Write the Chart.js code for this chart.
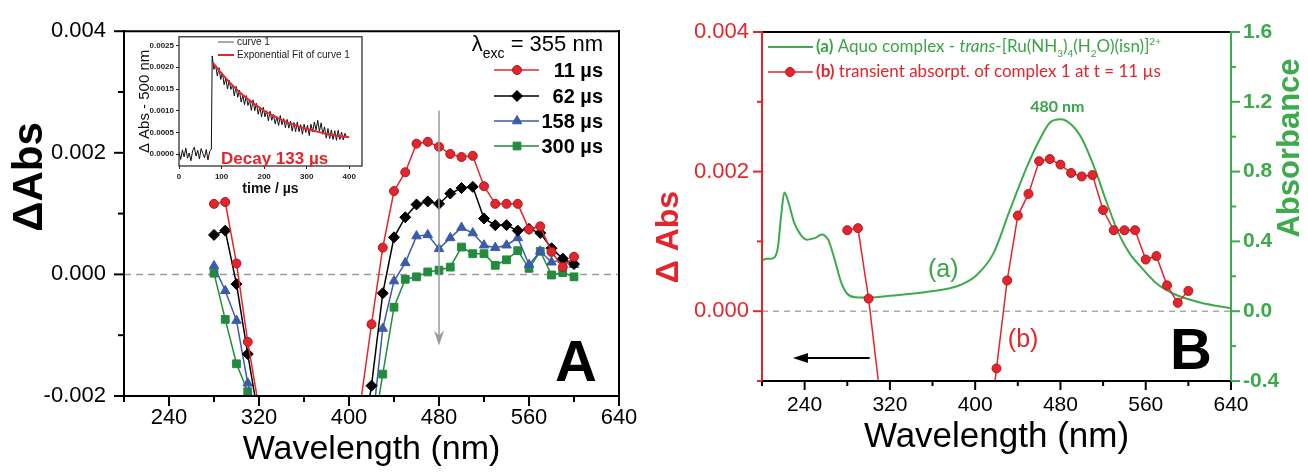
<!DOCTYPE html>
<html>
<head>
<meta charset="utf-8">
<script src="https://cdn.jsdelivr.net/npm/chart.js"></script>
<style>
html,body{margin:0;padding:0;background:#fff;}
#wrap{position:relative;width:1308px;height:472px;overflow:hidden;background:#fff;}
canvas{position:absolute;}
#cA{left:0;top:0;}
#cB{left:650px;top:0;}
#cIn{left:120px;top:30px;}
</style>
</head>
<body>
<div id="wrap">
<canvas id="cA" width="650" height="472"></canvas>
<canvas id="cB" width="658" height="472"></canvas>
<canvas id="cIn" width="250" height="180"></canvas>
</div>
<script>
// wavelengths (nm) of the transient spectra, UV side and visible side
const wlUV = [280, 290, 300, 310, 320];
const wlVis = [410, 420, 430, 440, 450, 460, 470, 480, 490, 500, 510, 520, 530, 540, 550, 560, 570, 580, 590, 600];
// ΔAbs in units of 1e-3
const t11UV = [1.16, 1.19, 0.18, -1.11, -2.2];
const t11Vis = [-2.15, -0.82, 0.44, 1.37, 1.68, 2.15, 2.18, 2.10, 1.98, 1.93, 1.95, 1.45, 1.16, 1.16, 1.16, 0.74, 0.79, 0.37, 0.12, 0.29];
const t62UV = [0.65, 0.72, -0.16, -1.31, -2.4];
const t62Vis = [-3.0, -1.83, -0.31, 0.61, 0.94, 1.15, 1.20, 1.16, 1.33, 1.42, 1.44, 0.92, 0.81, 0.81, 0.72, 0.75, 0.68, 0.43, 0.26, 0.17];
const t158UV = [0.14, -0.27, -0.76, -1.79, -2.4];
const t158Vis = [-3.5, -2.6, -0.89, -0.11, 0.19, 0.63, 0.65, 0.42, 0.60, 0.77, 0.68, 0.48, 0.44, 0.48, 0.60, 0.16, 0.38, 0.20, 0.24, 0.16];
const t300UV = [0.02, -0.74, -1.47, -1.93, -2.5];
const t300Vis = [-4.0, -2.8, -1.64, -0.54, -0.08, -0.04, 0.04, 0.07, 0.12, 0.45, 0.34, 0.34, 0.15, 0.24, 0.39, 0.10, 0.38, -0.01, 0.03, -0.04];
const delayLabels = ['11 µs', '62 µs', '158 µs', '300 µs'];

// aquo complex absorbance spectrum (panel B, right axis)
const absWl = [200, 204, 208, 212, 215, 218, 221, 225, 230, 236, 242, 250, 256, 262, 268, 274, 280, 288, 300, 323, 354, 375, 386, 401, 417, 432, 448, 461, 470, 480, 490, 500, 512, 523, 535, 545, 556, 570, 586, 611, 640];
const absVal = [0.29, 0.30, 0.30, 0.31, 0.37, 0.55, 0.68, 0.62, 0.51, 0.44, 0.41, 0.42, 0.44, 0.41, 0.30, 0.17, 0.10, 0.08, 0.078, 0.09, 0.11, 0.13, 0.15, 0.205, 0.33, 0.57, 0.82, 0.99, 1.08, 1.10, 1.07, 0.99, 0.82, 0.63, 0.44, 0.33, 0.25, 0.16, 0.10, 0.05, 0.017];

// inset: kinetic trace at 500 nm, units of 1e-4, 4 µs sampling
const insetStep = 4;
const insetBase = [0.5, -1.2, 1.0, -0.6, 1.4, -0.9, 0.3, -1.5, 0.8, 1.6, -0.4, 0.9, -1.1, 1.3, 0.2, -0.8, 1.1, -1.3, 0.6, 1.2];
const insetDecayStart = 78;
const insetDecay = [22.6, 19.5, 20.5, 18.0, 19.9, 17.2, 18.7, 16.0, 17.4, 15.0,
  17.0, 14.9, 15.9, 13.4, 15.6, 13.1, 14.7, 12.0, 13.5, 11.4,
  13.5, 11.2, 12.4, 10.1, 12.5, 10.0, 11.7, 9.2, 10.8, 8.6,
  10.8, 8.6, 10.0, 7.7, 9.9, 7.8, 9.1, 7.0, 8.6, 6.6,
  8.9, 6.8, 8.2, 6.1, 8.0, 6.0, 7.6, 5.3, 7.3, 5.2,
  7.4, 5.2, 6.8, 4.6, 6.9, 5.0, 6.7, 4.3, 6.9, 5.2,
  7.4, 5.6, 7.8, 5.3, 7.2, 4.6, 6.3, 3.7, 5.9, 3.6,
  5.6, 3.4, 5.4, 3.2, 5.5, 3.4, 5.1, 3.3, 4.8, 3.9];
const fitT = [80, 100, 125, 150, 175, 200, 225, 250, 275, 300, 325, 350, 375, 400];
const fitV = [21.0, 18.6, 15.9, 13.6, 11.7, 10.0, 8.7, 7.5, 6.6, 5.8, 5.2, 4.6, 4.2, 3.9];

const FONT = '"Liberation Sans", Arial, sans-serif';
const LEG = 'Lato, "Open Sans", sans-serif';
const RED = '#e3262d', BLUE = '#3b5ba9', GREEN = '#228b3c', GREENB = '#3daa4b', GRAY = '#9a9a9a';

function pts(wl, v, k){ return wl.map((w,i)=>({x:w, y:v[i]*k})); }
function twoSeg(a, b){ return pts(wlUV, a, 1e-3).concat([{x:365, y:null}], pts(wlVis, b, 1e-3)); }

function tickMarks(ctx, scale, area, side, from, to, minor, major, color, lenMaj, lenMin){
  ctx.strokeStyle = color; ctx.lineWidth = 2;
  const n = Math.round((to-from)/minor);
  for(let i=0;i<=n;i++){
    const v = from + i*minor;
    const isMaj = Math.abs(v/major - Math.round(v/major)) < 1e-6;
    const len = isMaj ? lenMaj : lenMin;
    const p = scale.getPixelForValue(v);
    ctx.beginPath();
    if(side==='bottom'){ ctx.moveTo(p, area.bottom); ctx.lineTo(p, area.bottom+len); }
    else if(side==='left'){ ctx.moveTo(area.left, p); ctx.lineTo(area.left-len, p); }
    else { ctx.moveTo(area.right, p); ctx.lineTo(area.right+len, p); }
    ctx.stroke();
  }
}
function seg(ctx, x1, y1, x2, y2, color, lw){
  ctx.strokeStyle = color; ctx.lineWidth = lw;
  ctx.beginPath(); ctx.moveTo(x1,y1); ctx.lineTo(x2,y2); ctx.stroke();
}
function marker(ctx, ds, x, y){
  const o = {pointStyle: ds.pointStyle, radius: ds.pointRadius, rotation: 0, borderWidth: 1};
  ctx.fillStyle = ds.backgroundColor; ctx.strokeStyle = ds.pointBorderColor; ctx.lineWidth = 1;
  Chart.helpers.drawPoint(ctx, o, x, y);
}
function vtext(ctx, txt, x, y, font, color){
  ctx.save(); ctx.translate(x, y); ctx.rotate(-Math.PI/2);
  ctx.font = font; ctx.fillStyle = color; ctx.textAlign = 'center'; ctx.textBaseline = 'middle';
  ctx.fillText(txt, 0, 0); ctx.restore();
}
function richText(ctx, runs, x, y, size, family, align){
  const fontOf = r => (r.i?'italic ':'') + (r.b?'bold ':'') + Math.round((r.sub||r.sup)?size*0.62:size) + 'px ' + family;
  let w = 0;
  runs.forEach(r=>{ ctx.font = fontOf(r); r.w = ctx.measureText(r.t).width; w += r.w; });
  let cx = align==='right' ? x-w : x;
  ctx.textAlign = 'left'; ctx.textBaseline = 'alphabetic';
  runs.forEach(r=>{
    ctx.font = fontOf(r); ctx.fillStyle = r.c;
    const dy = r.sub ? size*0.3 : r.sup ? -size*0.45 : 0;
    ctx.fillText(r.t, cx, y+dy); cx += r.w;
  });
}
const fix3 = v => Math.abs(v)<1e-9 ? '0.000' : v.toFixed(3);

// ---------- panel A ----------
const styleA = [
  {c:RED, edge:'#b3161b', ps:'circle', r:4.5},
  {c:'#000', edge:'#000', ps:'rectRot', r:5.5},
  {c:BLUE, edge:BLUE, ps:'triangle', r:5.5},
  {c:GREEN, edge:GREEN, ps:'rect', r:5.5}];
const seriesA = [[t11UV,t11Vis],[t62UV,t62Vis],[t158UV,t158Vis],[t300UV,t300Vis]];
const dsA = seriesA.map((s,i)=>({
  label: delayLabels[i], data: twoSeg(s[0], s[1]),
  borderColor: styleA[i].c, backgroundColor: styleA[i].c, pointBorderColor: styleA[i].edge,
  pointStyle: styleA[i].ps, pointRadius: styleA[i].r, pointBorderWidth: 1, borderWidth: 1.5
}));
dsA.push({label:'zero', data:[{x:200,y:0},{x:640,y:0}], borderColor:GRAY, borderDash:[7,5], borderWidth:1.5, pointRadius:0});

const plugA = {
  id: 'panelA',
  afterDatasetsDraw(chart){
    const {ctx, scales:{x, y}} = chart;
    ctx.save();
    const ax = x.getPixelForValue(480), y1 = y.getPixelForValue(0.00269), y2 = y.getPixelForValue(-0.00117);
    seg(ctx, ax, y1, ax, y2-4, GRAY, 1.5);
    ctx.fillStyle = GRAY;
    ctx.beginPath(); ctx.moveTo(ax-5, y2-15); ctx.lineTo(ax, y2); ctx.lineTo(ax+5, y2-15); ctx.lineTo(ax, y2-10); ctx.closePath(); ctx.fill();
    ctx.restore();
  },
  afterDraw(chart){
    const {ctx, chartArea:a, scales:{x, y}} = chart;
    ctx.save();
    ctx.lineCap = 'square';
    seg(ctx, a.left, a.top, a.right, a.top, '#000', 2);
    seg(ctx, a.right, a.top, a.right, a.bottom, '#000', 2);
    seg(ctx, a.left, a.top, a.left, a.bottom, '#000', 2);
    seg(ctx, a.left, a.bottom, a.right, a.bottom, '#000', 2);
    ctx.lineCap = 'butt';
    tickMarks(ctx, x, a, 'bottom', 200, 640, 40, 80, '#000', 10, 6);
    tickMarks(ctx, y, a, 'left', -0.002, 0.004, 0.001, 0.002, '#000', 10, 6);
    vtext(ctx, 'ΔAbs', 30, 177, 'bold 42px '+FONT, '#000');
    // legend
    richText(ctx, [{t:'λ', c:'#000'}, {t:'exc', sub:1, c:'#000'}, {t:' = 355 nm', c:'#000'}], 603, 51, 22, FONT, 'right');
    const rows = [70, 96, 121, 146];
    chart.data.datasets.slice(0,4).forEach((ds,i)=>{
      seg(ctx, 494, rows[i], 539, rows[i], ds.borderColor, 1.5);
      marker(ctx, ds, 517, rows[i]);
      ctx.font = 'bold 20px '+FONT; ctx.fillStyle = '#000'; ctx.textAlign = 'right'; ctx.textBaseline = 'middle';
      ctx.fillText(ds.label, 603, rows[i]+1);
    });
    ctx.font = 'bold 58px '+FONT; ctx.textAlign = 'center'; ctx.textBaseline = 'alphabetic'; ctx.fillStyle = '#000';
    ctx.fillText('A', 576, 381);
    ctx.restore();
  }
};

new Chart(document.getElementById('cA'), {
  type: 'line',
  data: {datasets: dsA},
  options: {
    responsive:false, animation:false, events:[],
    layout:{padding:{top:27, right:31, left:0, bottom:0}, autoPadding:false},
    plugins:{legend:{display:false}, tooltip:{enabled:false}},
    scales:{
      x:{type:'linear', min:200, max:640, afterFit(s){ s.height = 76; },
        grid:{drawOnChartArea:false, drawTicks:false}, border:{display:false},
        ticks:{stepSize:40, autoSkip:false, maxRotation:0, padding:9, color:'#000', font:{family:FONT, size:22},
          callback:v => v%80===0 ? String(v) : ''},
        title:{display:true, text:'Wavelength (nm)', color:'#000', font:{family:FONT, size:34}, padding:{top:0, bottom:2}}},
      y:{type:'linear', min:-0.002, max:0.004, afterFit(s){ s.width = 124; },
        grid:{drawOnChartArea:false, drawTicks:false}, border:{display:false},
        ticks:{stepSize:0.002, padding:18, color:'#000', font:{family:FONT, size:22}, callback:fix3}}
    }
  },
  plugins:[plugA]
});

// ---------- panel B ----------
const dsB = [
  {label:'(b)', yAxisID:'y', data: twoSeg(t11UV, t11Vis), borderColor:RED, backgroundColor:RED, pointBorderColor:'#b3161b',
   pointStyle:'circle', pointRadius:4.5, pointBorderWidth:1, borderWidth:1.5},
  {label:'(a)', yAxisID:'y2', data: pts(absWl, absVal, 1), borderColor:GREENB, borderWidth:2, pointRadius:0,
   cubicInterpolationMode:'monotone'},
  {label:'zero', yAxisID:'y', data:[{x:200,y:0},{x:640,y:0}], borderColor:'#aaa', borderDash:[6,5], borderWidth:1.5, pointRadius:0}
];
const plugB = {
  id: 'panelB',
  afterDraw(chart){
    const {ctx, chartArea:a, scales:{x, y, y2}} = chart;
    ctx.save();
    ctx.lineCap = 'square';
    seg(ctx, a.left, a.top, a.right, a.top, '#000', 2);
    seg(ctx, a.left, a.bottom, a.right, a.bottom, '#000', 2);
    seg(ctx, a.left, a.top, a.left, a.bottom, RED, 2);
    seg(ctx, a.right, a.top, a.right, a.bottom, GREENB, 2);
    ctx.lineCap = 'butt';
    tickMarks(ctx, x, a, 'bottom', 200, 640, 40, 80, '#000', 9, 5);
    tickMarks(ctx, y, a, 'left', -0.001, 0.004, 0.001, 0.002, RED, 9, 5);
    tickMarks(ctx, y2, a, 'right', -0.4, 1.6, 0.2, 0.4, GREENB, 9, 5);
    vtext(ctx, 'Δ Abs', 19, 237, 'bold 32px '+FONT, RED);
    vtext(ctx, 'Absorbance', 640, 148, 'bold 31px '+FONT, GREENB);
    // legend
    seg(ctx, 118, 47, 163, 47, GREENB, 2);
    richText(ctx, [{t:'(a)', b:1, c:'#3aa346'}, {t:' Aquo complex - ', c:'#3aa346'}, {t:'trans', i:1, c:'#3aa346'},
      {t:'-[Ru(NH', c:'#3aa346'}, {t:'3', sub:1, c:'#3aa346'}, {t:')', c:'#3aa346'}, {t:'4', sub:1, c:'#3aa346'},
      {t:'(H', c:'#3aa346'}, {t:'2', sub:1, c:'#3aa346'}, {t:'O)(isn)]', c:'#3aa346'}, {t:'2+', sup:1, c:'#3aa346'}],
      166, 52, 16.5, LEG, 'left');
    seg(ctx, 118, 72, 163, 72, RED, 1.5);
    marker(ctx, chart.data.datasets[0], 140, 72);
    richText(ctx, [{t:'(b)', b:1, c:RED}, {t:' transient absorpt. of complex 1 at t = 11 µs', c:RED}], 166, 77, 16.5, LEG, 'left');
    // annotations
    ctx.textAlign = 'center'; ctx.textBaseline = 'middle';
    ctx.font = 'bold 16px '+LEG; ctx.fillStyle = '#3aa346';
    ctx.fillText('480 nm', x.getPixelForValue(477), y2.getPixelForValue(1.17));
    ctx.font = '25px '+FONT; ctx.fillStyle = '#3aa346';
    ctx.fillText('(a)', x.getPixelForValue(370), y2.getPixelForValue(0.234));
    ctx.fillStyle = RED;
    ctx.fillText('(b)', x.getPixelForValue(445), y.getPixelForValue(-0.00041));
    const ay = y.getPixelForValue(-0.00067), xr = x.getPixelForValue(301), xl = x.getPixelForValue(229);
    seg(ctx, xr, ay, xl+10, ay, '#000', 2);
    ctx.fillStyle = '#000';
    ctx.beginPath(); ctx.moveTo(xl, ay); ctx.lineTo(xl+15, ay-5); ctx.lineTo(xl+15, ay+5); ctx.closePath(); ctx.fill();
    ctx.font = 'bold 58px '+FONT; ctx.textAlign = 'center'; ctx.textBaseline = 'alphabetic'; ctx.fillStyle = '#000';
    ctx.fillText('B', 541, 369);
    ctx.restore();
  }
};
new Chart(document.getElementById('cB'), {
  type: 'line',
  data: {datasets: dsB},
  options: {
    responsive:false, animation:false, events:[],
    layout:{padding:{top:32, right:0, left:0, bottom:0}, autoPadding:false},
    plugins:{legend:{display:false}, tooltip:{enabled:false}},
    scales:{
      x:{type:'linear', min:200, max:640, afterFit(s){ s.height = 91; },
        grid:{drawOnChartArea:false, drawTicks:false}, border:{display:false},
        ticks:{stepSize:40, autoSkip:false, maxRotation:0, padding:12, color:'#000', font:{family:FONT, size:21},
          callback:v => v%80===0 ? String(v) : ''},
        title:{display:true, text:'Wavelength (nm)', color:'#000', font:{family:FONT, size:35}, padding:{top:0, bottom:14}}},
      y:{type:'linear', position:'left', min:-0.001, max:0.004, afterFit(s){ s.width = 112; },
        grid:{drawOnChartArea:false, drawTicks:false}, border:{display:false},
        ticks:{stepSize:0.002, includeBounds:false, padding:13, color:RED, font:{family:FONT, size:22}, callback:fix3}},
      y2:{type:'linear', position:'right', min:-0.4, max:1.6, afterFit(s){ s.width = 77; },
        grid:{drawOnChartArea:false, drawTicks:false}, border:{display:false},
        ticks:{stepSize:0.4, padding:12, color:GREENB, font:{family:FONT, size:21, weight:'bold'},
          callback:v => Math.abs(v)<1e-9 ? '0.0' : v.toFixed(1)}}
    }
  },
  plugins:[plugB]
});

// ---------- inset ----------
const insetCurve = insetBase.map((v,i)=>({x:i*insetStep, y:v*1e-4}))
  .concat(insetDecay.map((v,i)=>({x:insetDecayStart+i*insetStep, y:v*1e-4})));
const plugIn = {
  id: 'inset',
  beforeDraw(chart){
    const {ctx, chartArea:a} = chart;
    ctx.save(); ctx.fillStyle = '#fff'; ctx.fillRect(a.left, a.top, a.right-a.left, a.bottom-a.top); ctx.restore();
  },
  afterDraw(chart){
    const {ctx, chartArea:a} = chart;
    ctx.save();
    ctx.strokeStyle = '#222'; ctx.lineWidth = 1.2;
    ctx.strokeRect(a.left, a.top, a.right-a.left, a.bottom-a.top);
    seg(ctx, 98, 12, 114, 12, '#555', 1);
    seg(ctx, 98, 25, 114, 25, RED, 2);
    ctx.font = '10px '+FONT; ctx.fillStyle = '#222'; ctx.textAlign = 'left'; ctx.textBaseline = 'middle';
    ctx.fillText('curve 1', 117, 12);
    ctx.fillText('Exponential Fit of curve 1', 117, 25);
    ctx.font = 'bold 17px '+FONT; ctx.fillStyle = RED; ctx.textBaseline = 'alphabetic';
    ctx.fillText('Decay 133 µs', 101, 134);
    ctx.restore();
  }
};
new Chart(document.getElementById('cIn'), {
  type: 'line',
  data: {datasets: [
    {label:'Exponential Fit of curve 1', data: pts(fitT, fitV, 1e-4), borderColor:RED, borderWidth:2, pointRadius:0, tension:0.4},
    {label:'curve 1', data: insetCurve, borderColor:'#111', borderWidth:1, pointRadius:0}
  ]},
  options: {
    responsive:false, animation:false, events:[],
    layout:{padding:{top:6, right:8, left:0, bottom:0}, autoPadding:false},
    plugins:{legend:{display:false}, tooltip:{enabled:false}},
    scales:{
      x:{type:'linear', min:0, max:430, afterFit(s){ s.height = 44; },
        grid:{drawOnChartArea:false, tickLength:3, color:'#222'}, border:{display:false},
        ticks:{stepSize:100, includeBounds:false, padding:3, color:'#222', font:{family:FONT, size:8, weight:'bold'}},
        title:{display:true, text:'time / µs', color:'#111', font:{family:FONT, size:14, weight:'bold'}, padding:{top:0, bottom:12}}},
      y:{type:'linear', min:-0.00027, max:0.0027, afterFit(s){ s.width = 59; },
        grid:{drawOnChartArea:false, tickLength:3, color:'#222'}, border:{display:false},
        ticks:{stepSize:0.0005, includeBounds:false, padding:2, color:'#222', font:{family:FONT, size:8, weight:'bold'},
          callback:v => Math.abs(v)<1e-9 ? '0.0000' : v.toFixed(4)},
        title:{display:true, text:'Δ Abs - 500 nm', color:'#111', font:{family:FONT, size:15}, padding:{top:16, bottom:0}}}
    }
  },
  plugins:[plugIn]
});
</script>
</body>
</html>
